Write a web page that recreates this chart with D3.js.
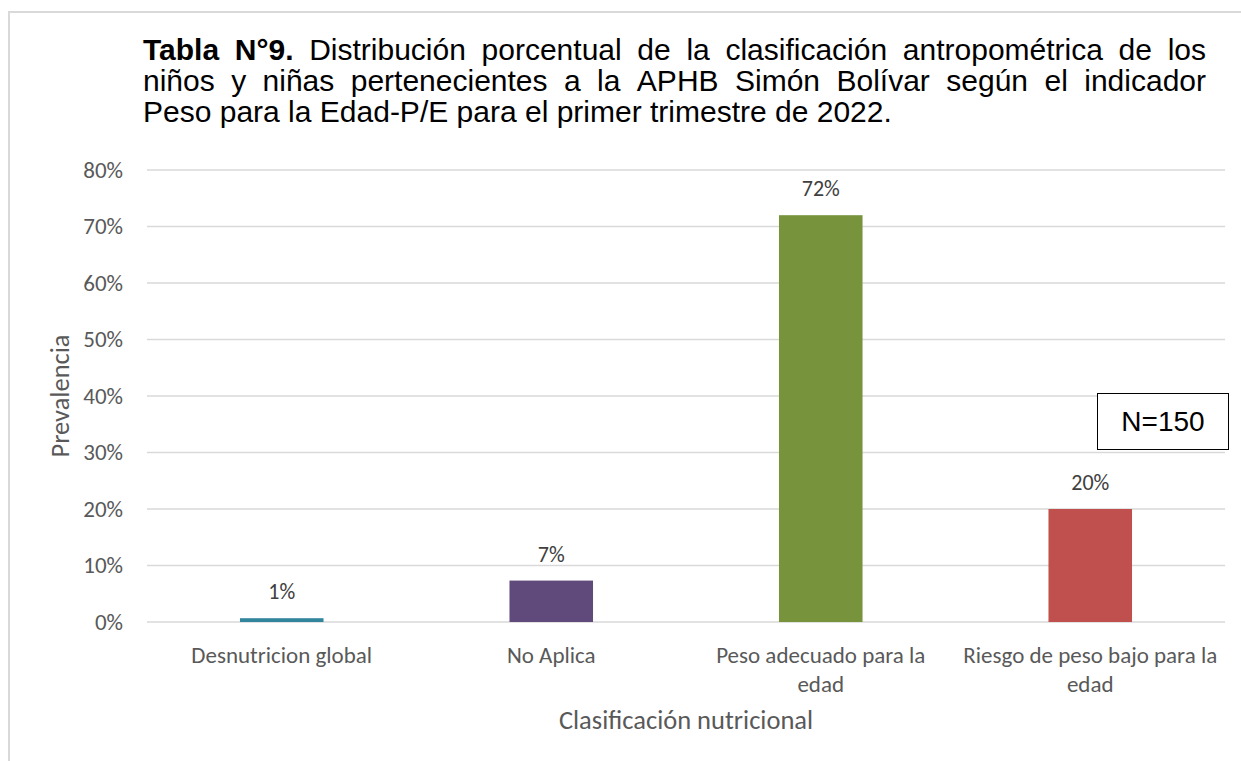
<!DOCTYPE html>
<html><head><meta charset="utf-8">
<script src="https://cdn.jsdelivr.net/npm/d3@7"></script>
<style>body{margin:0;background:#fff}svg{display:block}</style>
</head><body><svg id="c" width="1241" height="761"></svg>
<script>
const categories = [["Desnutricion global"], ["No Aplica"], ["Peso adecuado para la", "edad"], ["Riesgo de peso bajo para la", "edad"]];
const values = [0.67, 7.33, 72, 20];
const colors = ["#31859C", "#604A7B", "#77933C", "#C0504D"];
const yTicks = [0, 10, 20, 30, 40, 50, 60, 70, 80];
const titleLines = [
  [{t:"Tabla N°9.", b:true}, {t:"Distribución porcentual de la clasificación antropométrica de los"}],
  [{t:"niños y niñas pertenecientes a la APHB Simón Bolívar según el indicador"}],
  [{t:"Peso para la Edad-P/E para el primer trimestre de 2022."}]
];
const xTitle = "Clasificación nutricional";
const yTitle = "Prevalencia";
const note = "N=150";

const svg = d3.select("#c");
svg.append("rect").attr("x",9).attr("y",12).attr("width",1260).attr("height",780)
  .attr("fill","#fff").attr("stroke","#d9d9d9").attr("stroke-width",2);

// title, justified
const tFont = "'Liberation Sans', Arial, sans-serif";
const tLeft = 143, tRight = 1206, tSize = 30;
const tBase = [60, 91, 122];
titleLines.forEach((segs, li) => {
  const words = [];
  segs.forEach(s => s.t.split(" ").forEach(w => words.push({w, b: !!s.b})));
  const g = svg.append("g");
  const nodes = words.map(d => g.append("text").attr("y", tBase[li]).attr("font-family", tFont)
    .attr("font-size", tSize).attr("font-weight", d.b ? "bold" : "normal").attr("fill","#000").text(d.w));
  const widths = nodes.map(n => n.node().getComputedTextLength());
  const total = d3.sum(widths);
  const justify = li < titleLines.length - 1;
  const gap = justify ? (tRight - tLeft - total) / (words.length - 1) : tSize * 0.278;
  let x = tLeft;
  nodes.forEach((n, i) => { n.attr("x", x); x += widths[i] + gap; });
});

const m = {l:147, r:1225, t:170, b:622};
const x = d3.scaleBand().domain(d3.range(categories.length)).range([m.l, m.r]).paddingInner(0.69).paddingOuter(0.345);
const y = d3.scaleLinear().domain([0, 80]).range([m.b, m.t]);
const cFont = "Carlito, Calibri, Lato, 'Open Sans', sans-serif";

svg.append("g").selectAll("line").data(yTicks).join("line")
  .attr("x1", m.l).attr("x2", m.r).attr("y1", d => y(d)).attr("y2", d => y(d))
  .attr("stroke", "#d9d9d9").attr("stroke-width", 1.3);

const yAxis = svg.append("g").attr("transform", `translate(${m.l},0)`)
  .call(d3.axisLeft(y).tickValues(yTicks).tickFormat(d => d + "%").tickSize(0).tickPadding(24));
yAxis.select(".domain").remove();
yAxis.selectAll("text").attr("font-family", cFont).attr("font-size", 23).attr("fill", "#595959");

svg.append("g").selectAll("rect").data(values).join("rect")
  .attr("x", (d, i) => x(i)).attr("width", x.bandwidth())
  .attr("y", d => y(d)).attr("height", d => y(0) - y(d))
  .attr("fill", (d, i) => colors[i]);

svg.append("g").selectAll("text").data(values).join("text")
  .attr("x", (d, i) => x(i) + x.bandwidth() / 2).attr("y", d => y(d) - 19)
  .attr("text-anchor", "middle").attr("font-family", cFont).attr("font-size", 22).attr("fill", "#404040")
  .text(d => d3.format(".0f")(d) + "%");

const cl = svg.append("g").selectAll("text").data(categories).join("text")
  .attr("x", (d, i) => x(i) + x.bandwidth() / 2).attr("y", 663)
  .attr("text-anchor", "middle").attr("font-family", cFont).attr("font-size", 23).attr("fill", "#595959");
cl.selectAll("tspan").data(d => d).join("tspan")
  .attr("x", function(){ return this.parentNode.getAttribute("x"); })
  .attr("dy", (d, i) => i ? 29 : 0).text(d => d);

svg.append("text").attr("x", (m.l + m.r) / 2).attr("y", 729).attr("text-anchor", "middle")
  .attr("font-family", cFont).attr("font-size", 26.5).attr("fill", "#595959").text(xTitle);
svg.append("text").attr("transform", `translate(69,${(m.t + m.b) / 2}) rotate(-90)`).attr("text-anchor", "middle")
  .attr("font-family", cFont).attr("font-size", 26.5).attr("fill", "#595959").text(yTitle);

svg.append("rect").attr("x", 1097.5).attr("y", 393.5).attr("width", 131).attr("height", 56)
  .attr("fill", "#fff").attr("stroke", "#000").attr("stroke-width", 1);
svg.append("text").attr("x", 1163).attr("y", 431).attr("text-anchor", "middle")
  .attr("font-family", tFont).attr("font-size", 28).attr("fill", "#000").text(note);
</script></body></html>
